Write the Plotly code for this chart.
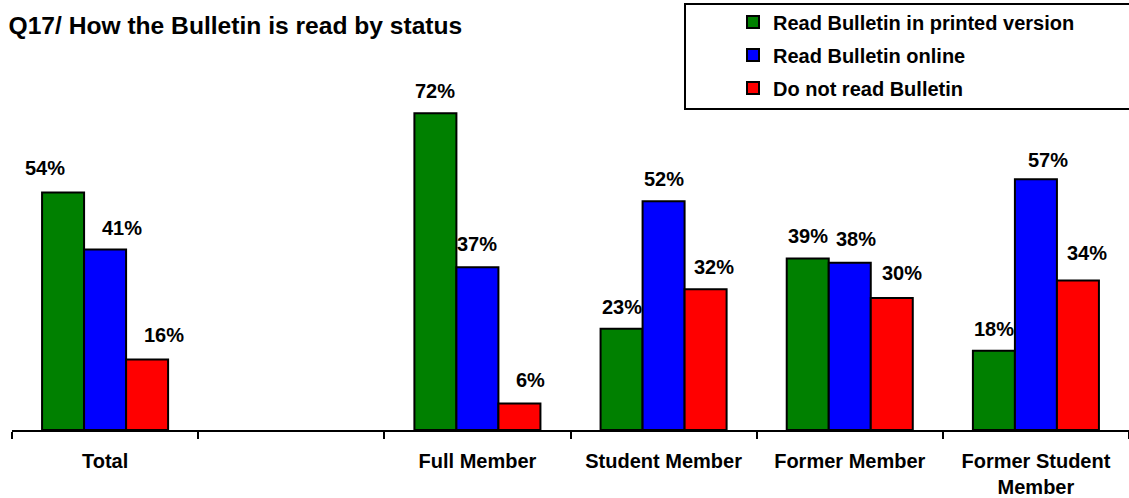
import plotly.graph_objects as go

# ---- data ----
categories = ["Total", " ", "Full Member", "Student Member", "Former Member", "Former Student<br>Member"]
series_names = ["Read Bulletin in printed version", "Read Bulletin online", "Do not read Bulletin"]
printed = [54, None, 72, 23, 39, 18]
online = [41, None, 37, 52, 38, 57]
not_read = [16, None, 6, 32, 30, 34]
series_values = [printed, online, not_read]
colors = ["#008000", "#0000FF", "#FF0000"]

# ---- layout numbers ----
W, H = 1129, 498
ML, MR, MT, MB = 12, 0, 78, 68
BARGAP = 0.323
plot_w = W - ML - MR
plot_h = H - MT - MB
bar_px = plot_w / len(categories) * (1 - BARGAP) / 3

# small manual nudges of value labels (px), as in the original chart
label_dx = [[-18, 0, 0, 0, 0, 0],
            [17, 0, 0, 0, 6, 12],
            [17, 0, 11, 8, 10, 9]]
label_dy = [[2, 0, 0, 0, 0, 0],
            [0, 0, 1, 0, 2, -3],
            [3, 0, 2, 0, 3, 5]]
LABEL_GAP = 22

FONT = "Liberation Sans, Arial, sans-serif"


def px_x(p):
    return (p - ML) / plot_w


def px_y(p):
    return (H - MB - p) / plot_h


fig = go.Figure()
for k, (name, vals, col) in enumerate(zip(series_names, series_values, colors)):
    fig.add_trace(go.Bar(
        x=categories, y=vals, name=name, legendgroup=f"g{k}",
        marker=dict(color=col, line=dict(color="black", width=2)),
        hoverinfo="skip",
    ))

annotations = []
for j, vals in enumerate(series_values):
    for i, v in enumerate(vals):
        if v is None:
            continue
        annotations.append(dict(
            x=categories[i], y=v, xref="x", yref="y",
            text=f"{v}%", showarrow=False,
            xanchor="center", yanchor="middle",
            xshift=(j - 1) * bar_px + label_dx[j][i],
            yshift=LABEL_GAP + label_dy[j][i],
            font=dict(family=FONT, size=20, color="black", weight="bold"),
        ))

fig.update_layout(
    width=W, height=H,
    margin=dict(l=ML, r=MR, t=MT, b=MB, pad=0, autoexpand=False),
    paper_bgcolor="white", plot_bgcolor="white",
    barmode="group", bargap=BARGAP, bargroupgap=0,
    title=dict(text="Q17/ How the Bulletin is read by status",
               x=8.5 / W, xref="container", xanchor="left",
               y=1 - 25 / H, yref="container", yanchor="middle",
               font=dict(family=FONT, size=24.6, color="black", weight="bold")),
    showlegend=True,
    legend=dict(x=px_x(733), y=px_y(2.5), xanchor="left", yanchor="top",
                bgcolor="rgba(0,0,0,0)", borderwidth=0, tracegroupgap=4,
                font=dict(family=FONT, size=20, color="black", weight="bold"),
                traceorder="grouped"),
    annotations=annotations,
    shapes=[dict(type="rect", xref="paper", yref="paper",
                 x0=px_x(685), x1=px_x(1140), y0=px_y(109), y1=px_y(4),
                 line=dict(color="black", width=2), fillcolor="rgba(0,0,0,0)",
                 layer="above")],
    xaxis=dict(type="category", showline=True, linecolor="black", linewidth=2,
               ticks="outside", tickson="boundaries", ticklen=7, tickwidth=2,
               tickcolor="black", showgrid=False, zeroline=False,
               ticklabelstandoff=12,
               tickfont=dict(family=FONT, size=20, color="black", weight="bold")),
    yaxis=dict(range=[0, 80], visible=False, showgrid=False, zeroline=False),
)

fig.write_html("out.html",
               config={"displayModeBar": False},
               post_script="document.body.style.margin='0';document.body.style.padding='0';")
